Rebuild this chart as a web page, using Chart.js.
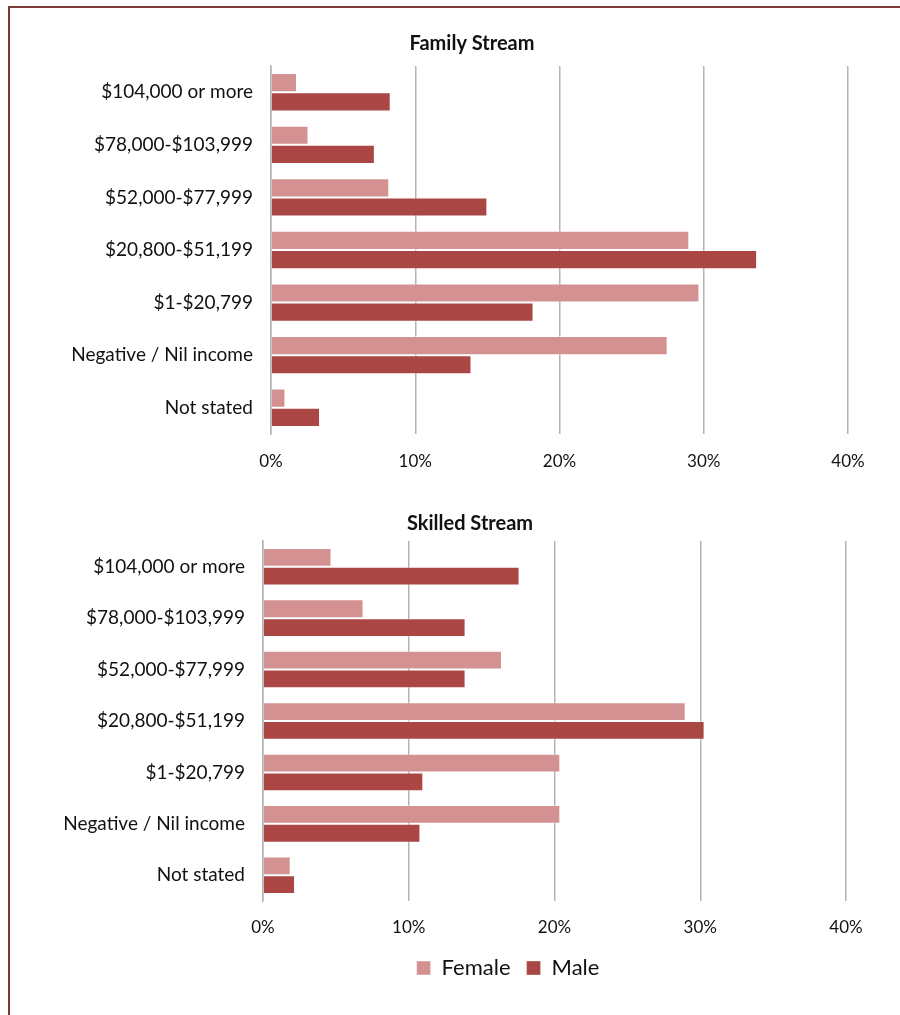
<!DOCTYPE html>
<html>
<head>
<meta charset="utf-8">
<script src="https://cdn.jsdelivr.net/npm/chart.js@4/dist/chart.umd.min.js"></script>
<style>
  html, body { margin: 0; padding: 0; background: #fff; }
  body { width: 900px; height: 1015px; position: relative; overflow: hidden; }
  .frame { position: absolute; left: 8px; top: 6px; width: 900px; height: 1100px;
           border-left: 2px solid #7b3a3a; border-top: 2px solid #7b3a3a; }
  .box { position: absolute; left: 0; width: 900px; }
  #top { top: 0; height: 490px; }
  #bottom { top: 490px; height: 525px; }
</style>
</head>
<body>
<div class="frame"></div>
<div class="box" id="top"><canvas id="familyChart"></canvas></div>
<div class="box" id="bottom"><canvas id="skilledChart"></canvas></div>
<script>
// categorias (de arriba a abajo)
const categories = ['$104,000 or more', '$78,000-$103,999', '$52,000-$77,999',
  '$20,800-$51,199', '$1-$20,799', 'Negative / Nil income', 'Not stated'];
const xTicks = [0, 10, 20, 30, 40];

// Family Stream (%)
const familyFemale = [1.8, 2.6, 8.2, 29.0, 29.7, 27.5, 1.0];
const familyMale = [8.3, 7.2, 15.0, 33.7, 18.2, 13.9, 3.4];

// Skilled Stream (%)
const skilledFemale = [4.7, 6.9, 16.4, 29.0, 20.4, 20.4, 1.9];
const skilledMale = [17.6, 13.9, 13.9, 30.3, 11.0, 10.8, 2.2];

const FEMALE = '#d39291';
const MALE = '#aa4745';
const FONT = 'Lato';

// desplaza titulo y leyenda en horizontal (centrado como en el original)
const shiftBoxes = {
    id: 'shiftBoxes',
    afterLayout(chart, args, opts) {
        if (opts.title && chart.titleBlock) {
            chart.titleBlock.left += opts.title;
            chart.titleBlock.right += opts.title;
        }
        if (opts.legend && chart.legend) {
            chart.legend.left += opts.legend;
            chart.legend.right += opts.legend;
        }
    }
};

function makeChart(id, title, female, male, opts) {
    const ctx = document.getElementById(id).getContext('2d');
    return new Chart(ctx, {
        type: 'bar',
        data: {
            labels: categories,
            datasets: [{
                label: 'Female',
                data: female,
                backgroundColor: FEMALE,
                borderColor: 'rgba(255,255,255,0.45)',
                borderWidth: 1
            }, {
                label: 'Male',
                data: male,
                backgroundColor: MALE,
                borderColor: 'rgba(255,255,255,0.35)',
                borderWidth: 1
            }]
        },
        plugins: [shiftBoxes],
        options: {
            indexAxis: 'y',
            responsive: true,
            maintainAspectRatio: false,
            animation: false,
            categoryPercentage: 0.73,
            barPercentage: 1,
            layout: { padding: opts.padding },
            scales: {
                x: {
                    min: 0,
                    max: 40,
                    afterBuildTicks: function(axis) {
                        axis.ticks = xTicks.map(v => ({ value: v }));
                    },
                    afterFit: function(axis) { axis.height = opts.xHeight; },
                    ticks: {
                        padding: opts.xPad,
                        maxRotation: 0,
                        color: '#111',
                        font: { family: FONT, size: 17 },
                        callback: v => v + '%'
                    },
                    grid: { color: '#b3b3b3', lineWidth: 1.5, drawTicks: false },
                    border: { display: false }
                },
                y: {
                    afterFit: function(axis) { axis.width = opts.yWidth; },
                    ticks: {
                        padding: 18,
                        color: '#111',
                        font: { family: FONT, size: 19 }
                    },
                    grid: { display: false, drawTicks: false },
                    border: { display: true, color: '#b3b3b3', width: 1.5 }
                }
            },
            plugins: {
                legend: opts.legend,
                tooltip: { enabled: false },
                shiftBoxes: opts.shift,
                title: {
                    display: true,
                    text: title,
                    color: '#111',
                    font: { family: FONT, size: 20, weight: 'bold' },
                    padding: opts.titlePadding
                }
            }
        }
    });
}

makeChart('familyChart', 'Family Stream', familyFemale, familyMale, {
    padding: { left: 0, right: 52, top: 0, bottom: 16 },
    yWidth: 271,
    xHeight: 40,
    xPad: 17,
    titlePadding: { top: 32, bottom: 10 },
    shift: { title: 48 },
    legend: { display: false }
});

makeChart('skilledChart', 'Skilled Stream', skilledFemale, skilledMale, {
    padding: { left: 0, right: 54, top: 0, bottom: 26 },
    yWidth: 263,
    xHeight: 40,
    xPad: 16,
    titlePadding: { top: 22, bottom: 5 },
    shift: { title: 47, legend: 85 },
    legend: {
        display: true,
        position: 'bottom',
        labels: {
            color: '#111',
            font: { family: FONT, size: 22 },
            boxWidth: 14,
            boxHeight: 14,
            padding: 16
        }
    }
});
</script>
</body>
</html>
